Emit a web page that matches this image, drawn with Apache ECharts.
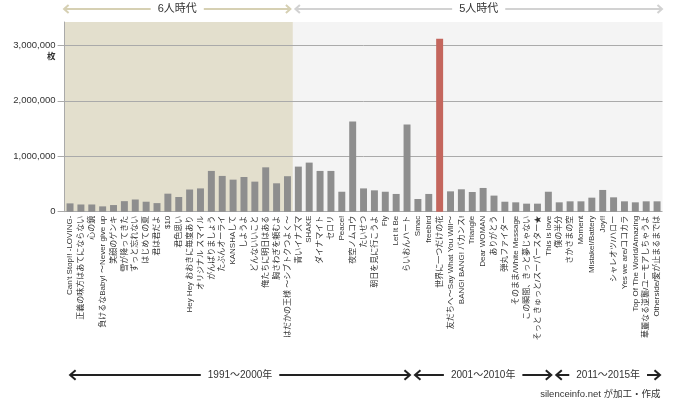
<!DOCTYPE html>
<html><head><meta charset="utf-8">
<script src="https://cdn.jsdelivr.net/npm/echarts@6/dist/echarts.min.js"></script>
<style>html,body{margin:0;padding:0;background:#fff}#c{width:680px;height:404px}</style>
</head><body><div id="c"></div>
<script>
const categories = [
  "Can't Stop!! -LOVING-", '正義の味方はあてにならない', '心の鏡', '負けるなBaby! 〜Never give up', '笑顔のゲンキ',
  '雪が降ってきた', 'ずっと忘れない', 'はじめての夏', '君は君だよ', '$10',
  '君色思い', 'Hey Hey おおきに毎度あり', 'オリジナル スマイル', 'がんばりましょう', 'たぶんオーライ',
  'KANSHAして', 'しようよ', 'どんないいこと', '俺たちに明日はある', '胸さわぎを頼むよ',
  'はだかの王様 〜シブトクつよく〜', '青いイナズマ', 'SHAKE', 'ダイナマイト', 'セロリ',
  'Peace!', '夜空ノムコウ', 'たいせつ', '朝日を見に行こうよ', 'Fly',
  'Let It Be', 'らいおんハート', 'Smac', 'freebird', '世界に一つだけの花',
  '友だちへ〜Say What You Will〜', 'BANG! BANG! バカンス!', 'Triangle', 'Dear WOMAN', 'ありがとう',
  '弾丸ファイター', 'そのまま/White Message', 'この瞬間、きっと夢じゃない', 'そっと きゅっと/スーパースター★', 'This is love',
  '僕の半分', 'さかさまの空', 'Moment', 'Mistake!/Battery', 'Joy!!',
  'シャレオツ/ハロー', 'Yes we are/ココカラ', 'Top Of The World/Amazing', '華麗なる逆襲/ユーモアしちゃうよ', 'Otherside/愛が止まるまでは'
];
const sales = [
  150000, 130000, 130000, 96000, 120000, 190000, 220000, 180000, 155000, 325000,
  265000, 400000, 420000, 735000, 645000, 578000, 626000, 542000, 800000, 512000,
  640000, 813000, 885000, 735000, 735000, 360000, 1626000, 420000, 385000, 360000,
  320000, 1572000, 229000, 320000, 3120000, 367000, 404000, 355000, 428000, 290000,
  180000, 169000, 145000, 145000, 360000, 169000, 187000, 187000, 253000, 392000,
  259000, 187000, 169000, 187000, 187000
];
const highlight = '世界に一つだけの花';
const yTicks = [0, 1000000, 2000000, 3000000];
const yMax = 3420000;
const memberEras = ['6人時代', '5人時代'];
const memberEraSizes = [21, 34];
const yearEras = ['1991〜2000年', '2001〜2010年', '2011〜2015年'];
const yearEraSizes = [32, 13, 10];
const unitText = '枚';
const sourceText = 'silenceinfo.net が加工・作成';

const FONT = '"Liberation Sans", "Noto Sans CJK JP", sans-serif';
const cum = arr => { const b = [0]; arr.forEach(n => b.push(b[b.length - 1] + n)); return b; };
const mb = cum(memberEraSizes);
const yb = cum(yearEraSizes);
const eraBg = ['#e3dfcd', '#f4f4f4'];
const eraArrow = ['#d6d0b3', '#d2d2d2'];

const chart = echarts.init(document.getElementById('c'), null, {renderer: 'canvas'});
const option = {
  animation: false,
  grid: {left: 64.6, right: 17.5, top: 22, bottom: 192.3, containLabel: false, outerBoundsMode: 'none'},
  xAxis: [
    {type: 'category', data: categories, axisLine: {show: false}, axisTick: {show: false},
     axisLabel: {interval: 0, rotate: 90, fontSize: 8, color: '#333', margin: 4, fontFamily: FONT}},
    {type: 'value', min: 0, max: categories.length, show: false}
  ],
  yAxis: {
    type: 'value', min: 0, max: yMax, interval: 1000000,
    axisLine: {show: true, lineStyle: {color: '#aaa', width: 1}},
    axisTick: {show: true, length: 7, customValues: yTicks, lineStyle: {color: '#aaa'}},
    axisLabel: {customValues: yTicks, fontSize: 9.5, color: '#333', margin: 9, fontFamily: FONT,
                formatter: v => v.toLocaleString('en-US')},
    splitLine: {show: true, lineStyle: {color: '#aaa', width: 1}}
  },
  series: [
    {type: 'line', xAxisIndex: 1, data: [[0, 0]], symbol: 'none', lineStyle: {opacity: 0}, z: -1, silent: true,
     markArea: {silent: true, z: -1,
       data: memberEras.map((n, i) => [{xAxis: mb[i], yAxis: 0, itemStyle: {color: eraBg[i]}}, {xAxis: mb[i + 1], yAxis: yMax}])}},
    {type: 'bar', xAxisIndex: 0, barCategoryGap: '36%', z: 3,
     data: sales.map((v, i) => ({value: v, itemStyle: {color: categories[i] === highlight ? '#c4665d' : '#8e8e8e'}}))}
  ]
};
chart.setOption(option);

const px = v => chart.convertToPixel({xAxisIndex: 1}, v);
const py = v => chart.convertToPixel({yAxisIndex: 0}, v);
const els = [];
function arrow(x1, x2, y, color, lw, head, label, fs, tc) {
  els.push({type: 'line', silent: true, shape: {x1: x1 + 1, y1: y, x2: x2 - 1, y2: y}, style: {stroke: color, lineWidth: lw}});
  els.push({type: 'polyline', silent: true, shape: {points: [[x1 + head, y - head * 0.8], [x1 + 0.5, y], [x1 + head, y + head * 0.8]]}, style: {stroke: color, lineWidth: lw, fill: null}});
  els.push({type: 'polyline', silent: true, shape: {points: [[x2 - head, y - head * 0.8], [x2 - 0.5, y], [x2 - head, y + head * 0.8]]}, style: {stroke: color, lineWidth: lw, fill: null}});
  els.push({type: 'text', silent: true, x: (x1 + x2) / 2, y: y,
    style: {text: label, fontSize: fs, fontFamily: FONT, fill: tc, align: 'center', verticalAlign: 'middle', backgroundColor: '#fff', padding: [1, 7]}});
}
memberEras.forEach((n, i) => arrow(px(mb[i]) + (i ? 2 : -1), px(mb[i + 1]) - (i ? 0 : 2), 9, eraArrow[i], 2, 5, n, 11, '#333'));
yearEras.forEach((n, i) => arrow(px(yb[i]) + (i ? 2 : 5), px(yb[i + 1]) - 2, 375, '#222', 2, 6, n, 10, '#333'));
els.push({type: 'text', silent: true, x: px(0) - 9, y: py(3000000) + 11,
  style: {text: unitText, fontSize: 8.5, fontWeight: 'bold', fontFamily: FONT, fill: '#333', align: 'right', verticalAlign: 'middle'}});
els.push({type: 'text', silent: true, x: px(categories.length) - 2, y: 394,
  style: {text: sourceText, fontSize: 9.5, fontFamily: FONT, fill: '#333', align: 'right', verticalAlign: 'middle'}});
chart.setOption({graphic: {elements: els}});
</script></body></html>
